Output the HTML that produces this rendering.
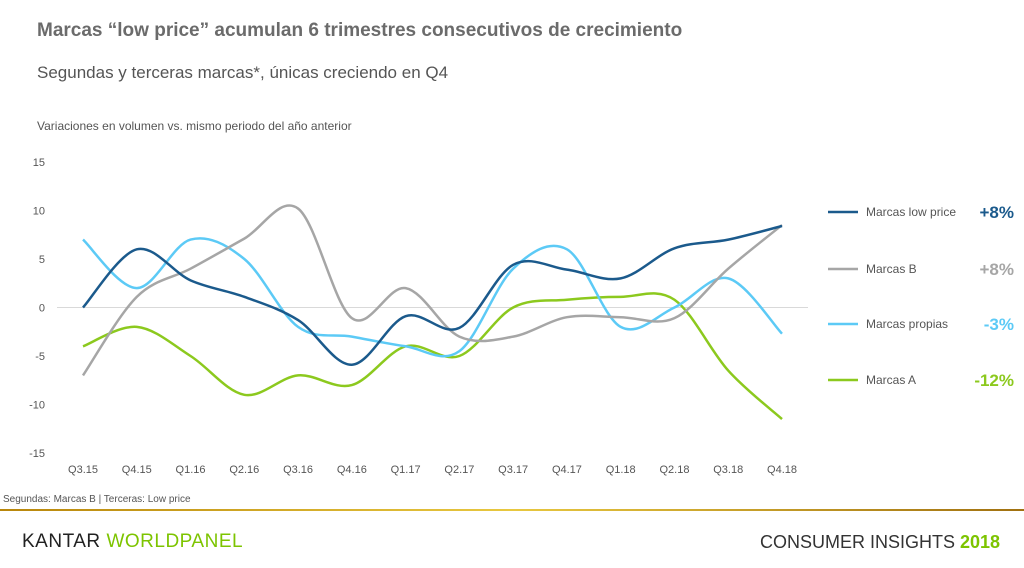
<!DOCTYPE html>
<html><head><meta charset="utf-8"><style>
body{margin:0;width:1024px;height:568px;background:#fff;font-family:"Liberation Sans",sans-serif;overflow:hidden;position:relative}
.abs{position:absolute;white-space:nowrap}
</style></head><body>
<div class="abs" style="left:37px;top:20px;font-size:19px;font-weight:bold;color:#6b6b6b">Marcas “low price” acumulan 6 trimestres consecutivos de crecimiento</div>
<div class="abs" style="left:37px;top:63px;font-size:17px;color:#555">Segundas y terceras marcas*, únicas creciendo en Q4</div>
<div class="abs" style="left:37px;top:119px;font-size:12px;color:#555">Variaciones en volumen vs. mismo periodo del año anterior</div>
<div class="abs" style="left:3px;top:494px;font-size:10px;color:#555">Segundas: Marcas B | Terceras: Low price</div>
<div class="abs" style="left:0;top:509px;width:1024px;height:2px;background:linear-gradient(90deg,#b8860b,#e8c840 50%,#a07010)"></div>
<div class="abs" style="left:22px;top:531px;font-size:19px;color:#222;letter-spacing:0.5px">KANTAR <span style="color:#7dc400">WORLDPANEL</span></div>
<div class="abs" style="left:760px;top:532px;font-size:18px;color:#333">CONSUMER INSIGHTS <span style="color:#7dc400;font-weight:bold">2018</span></div>
<svg id="chart" width="1024" height="568" style="position:absolute;left:0;top:0"></svg>
<script>
const categories=["Q3.15","Q4.15","Q1.16","Q2.16","Q3.16","Q4.16","Q1.17","Q2.17","Q3.17","Q4.17","Q1.18","Q2.18","Q3.18","Q4.18"];
const lowPrice=[0,6,2.8,1.1,-1.3,-5.9,-0.9,-2.1,4.4,3.9,3,6.1,7,8.4];
const marcasB=[-7,1.1,4,7.1,10.2,-1.1,2,-3,-3,-1,-1,-1.1,4,8.5];
const propias=[7,2,7,5,-2,-3,-4,-4.5,4,6,-2,0,3,-2.7];
const marcasA=[-4,-2,-5,-9,-7,-8,-4,-5,0,0.8,1.1,0.8,-6.5,-11.5];
const yTicks=[15,10,5,0,-5,-10,-15];
const seriesNames=["Marcas low price","Marcas B","Marcas propias","Marcas A"];
const seriesValues=["+8%","+8%","-3%","-12%"];
const colors=["#1b5a8c","#a6a6a6","#5ccaf6","#8cc91e"];
const svg=document.getElementById('chart');const NS="http://www.w3.org/2000/svg";
const x=i=>83+i*(782-83)/13, y=v=>307.5-v*9.7;
function mk(t,a,txt){const e=document.createElementNS(NS,t);for(const k in a)e.setAttribute(k,a[k]);if(txt!=null)e.textContent=txt;svg.appendChild(e);return e;}
let z=mk('line',{x1:57,x2:808,y1:y(0),y2:y(0),stroke:'#d9d9d9','stroke-width':1});


yTicks.forEach(v=>{const t=mk('text',{x:45,y:y(v)+4,'text-anchor':'end','font-size':11,fill:'#555','font-family':'Liberation Sans'},v);

});
categories.forEach((c,i)=>{const t=mk('text',{x:x(i),y:473,'text-anchor':'middle','font-size':11,fill:'#555','font-family':'Liberation Sans'},c);

});
function path(d){const p=d.map((v,i)=>[x(i),y(v)]);let s=`M${p[0][0]},${p[0][1]}`;
for(let i=0;i<p.length-1;i++){const p0=p[i-1]||p[i],p1=p[i],p2=p[i+1],p3=p[i+2]||p2;
s+=`C${p1[0]+(p2[0]-p0[0])/6},${p1[1]+(p2[1]-p0[1])/6} ${p2[0]-(p3[0]-p1[0])/6},${p2[1]-(p3[1]-p1[1])/6} ${p2[0]},${p2[1]}`;}return s;}
const data=[lowPrice,marcasB,propias,marcasA];
[3,2,1,0].forEach(k=>{const l=mk('path',{d:path(data[k]),fill:'none',stroke:colors[k],'stroke-width':2.5});

});
const ly=[212,269,324,380];
seriesNames.forEach((n,k)=>{const s=mk('line',{x1:828,x2:858,y1:ly[k],y2:ly[k],stroke:colors[k],'stroke-width':2.5});


const t=mk('text',{x:866,y:ly[k]+4,'font-size':12,fill:'#555','font-family':'Liberation Sans'},n);


const v=mk('text',{x:1014,y:ly[k]+6,'text-anchor':'end','font-size':17,'font-weight':'bold',fill:colors[k],'font-family':'Liberation Sans'},seriesValues[k]);

});
</script>
</body></html>
